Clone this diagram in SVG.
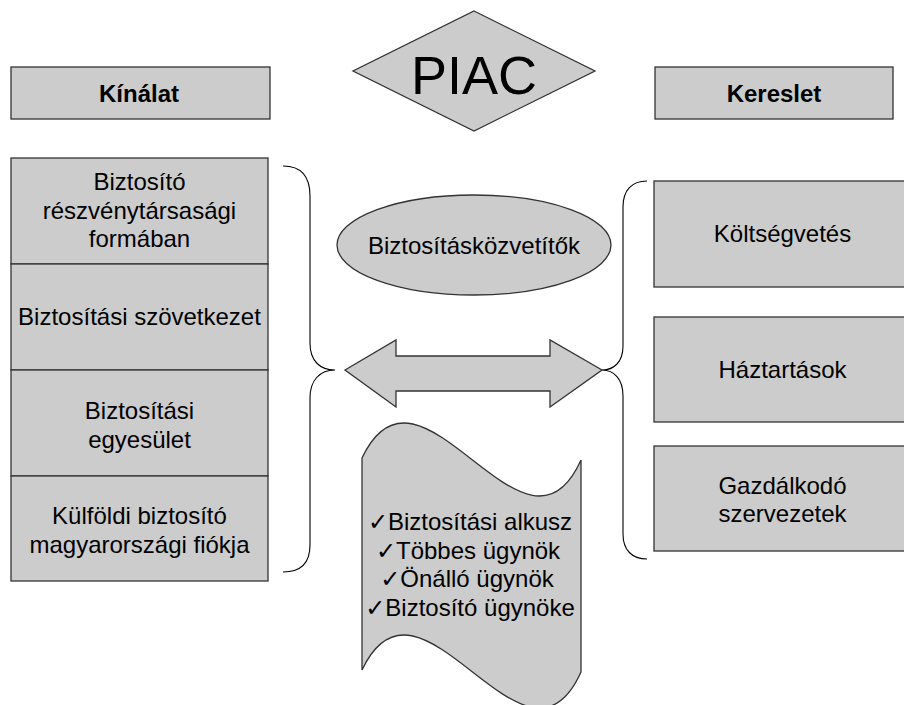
<svg xmlns="http://www.w3.org/2000/svg" width="904" height="705" viewBox="0 0 904 705">
<style>
.box{fill:#cccccc;stroke:#333333;stroke-width:1.3}
.brace{fill:none;stroke:#000000;stroke-width:1.1}
.t{font-family:"Liberation Sans","DejaVu Sans",Arial,sans-serif;font-size:24px;fill:#000000;text-anchor:middle}
.b{font-weight:bold}
</style>
<rect width="904" height="705" fill="#ffffff"/>
<g id="piac">
<polygon class="box" points="474,11 595,71 474,131 353,71"/>
<text class="t" x="474" y="94" style="font-size:54px">PIAC</text>
</g>
<g id="kinalat">
<rect class="box" x="11" y="67" width="259" height="52"/>
<text class="t b" x="139" y="102">Kínálat</text>
</g>
<g id="kereslet">
<rect class="box" x="655" y="67" width="238" height="52"/>
<text class="t b" x="774" y="102">Kereslet</text>
</g>
<g id="biztosito-rt">
<rect class="box" x="11" y="158" width="257" height="106"/>
<text class="t" x="139.5" y="190">Biztosító</text>
<text class="t" x="139.5" y="218.5">részvénytársasági</text>
<text class="t" x="139.5" y="247">formában</text>
</g>
<g id="szovetkezet">
<rect class="box" x="11" y="264" width="257" height="106"/>
<text class="t" x="139.5" y="325">Biztosítási szövetkezet</text>
</g>
<g id="egyesulet">
<rect class="box" x="11" y="370" width="257" height="106"/>
<text class="t" x="139.5" y="419">Biztosítási</text>
<text class="t" x="139.5" y="447.5">egyesület</text>
</g>
<g id="kulfoldi">
<rect class="box" x="11" y="476" width="257" height="105"/>
<text class="t" x="139.5" y="524">Külföldi biztosító</text>
<text class="t" x="139.5" y="552.5">magyarországi fiókja</text>
</g>
<g id="kozvetitok">
<ellipse class="box" cx="474" cy="245" rx="137" ry="50"/>
<text class="t" x="474" y="254">Biztosításközvetítők</text>
</g>
<g id="ugynokok">
<path class="box" d="M362,458 C420,335 525,585 581,460 L581,672 C525,797 420,547 362,670 Z"/>
<text class="t" x="470" y="530">✓Biztosítási alkusz</text>
<text class="t" x="468" y="558.5">✓Többes ügynök</text>
<text class="t" x="467" y="587">✓Önálló ügynök</text>
<text class="t" x="470" y="615.5">✓Biztosító ügynöke</text>
</g>
<g id="koltsegvetes">
<rect class="box" x="654" y="181" width="257" height="106"/>
<text class="t" x="782.5" y="242">Költségvetés</text>
</g>
<g id="haztartasok">
<rect class="box" x="654" y="317" width="257" height="105"/>
<text class="t" x="782.5" y="378">Háztartások</text>
</g>
<g id="gazdalkodo">
<rect class="box" x="654" y="446" width="257" height="105"/>
<text class="t" x="782.5" y="494">Gazdálkodó</text>
<text class="t" x="782.5" y="522">szervezetek</text>
</g>
<g id="connectors">
<path class="brace" d="M283,166 C301,166 310,176 310,196 L310,343 C310,361 320,370 335,370 C320,370 310,380 310,398 L310,545 C310,563 301,572 283,572"/>
<path class="brace" d="M647,181 C632,181 623,190 623,207 L623,346 C623,362 614,370 602,370 C614,370 623,379 623,396 L623,534 C623,550 632,559 647,559"/>
<polygon class="box" points="345,370 396,340 396,356 550,356 550,340 602,370 550,407 550,391 396,391 396,407"/>
</g>
</svg>
